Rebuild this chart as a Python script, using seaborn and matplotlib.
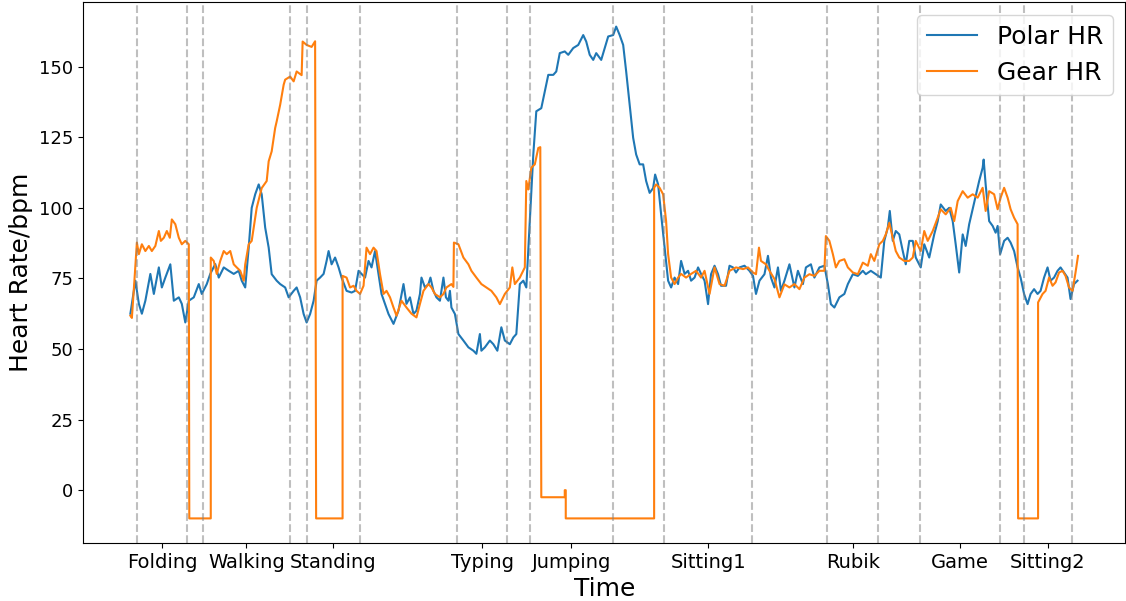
import pandas as pd
import matplotlib
matplotlib.use('Agg')
import matplotlib.pyplot as plt
import seaborn as sns

# activity names and their start/end times (s)
activities = ['Folding', 'Walking', 'Standing', 'Typing', 'Jumping',
              'Sitting1', 'Rubik', 'Game', 'Sitting2']
act_start = [14, 146, 353, 655, 800, 1069, 1396, 1581, 1789]
act_end = [113, 319, 459, 754, 967, 1246, 1498, 1742, 1885]

# Polar HR
polar_t = [0, 10, 17, 23, 30, 40, 47, 57, 63, 70, 80, 87, 97, 103, 110, 117, 127, 137, 143, 153,
           160, 170, 177, 187, 197, 207, 217, 223, 230, 237, 243, 250, 257, 263, 270, 277, 283, 293, 300, 310,
           317, 327, 333, 340, 347, 353, 360, 367, 373, 380, 387, 393, 397, 403, 410, 417, 423, 433, 443, 450,
           457, 463, 470, 477, 483, 490, 497, 503, 510, 517, 527, 537, 547, 553, 560, 567, 573, 580, 583, 590,
           597, 601, 607, 613, 620, 627, 632, 637, 640, 643, 650, 657, 667, 677, 687, 693, 700, 703, 710, 720,
           727, 735, 743, 750, 760, 767, 773, 780, 787, 793, 800, 807, 813, 823, 830, 837, 847, 853, 860, 870,
           877, 887, 897, 907, 913, 920, 927, 933, 943, 950, 957, 967, 973, 980, 987, 993, 1000, 1007, 1013, 1020,
           1027, 1033, 1040, 1047, 1051, 1057, 1063, 1070, 1077, 1083, 1090, 1097, 1103, 1110, 1117, 1123, 1130, 1137, 1143, 1150,
           1157, 1163, 1170, 1177, 1183, 1193, 1200, 1207, 1213, 1220, 1230, 1240, 1247, 1253, 1260, 1270, 1277, 1283, 1290, 1297,
           1303, 1310, 1320, 1330, 1337, 1347, 1353, 1363, 1370, 1380, 1390, 1397, 1403, 1410, 1420, 1430, 1437, 1447, 1457, 1467,
           1473, 1483, 1493, 1503, 1510, 1517, 1521, 1527, 1533, 1540, 1547, 1553, 1560, 1567, 1573, 1583, 1590, 1600, 1610, 1617,
           1623, 1633, 1640, 1647, 1653, 1660, 1667, 1673, 1680, 1687, 1693, 1700, 1707, 1709, 1713, 1720, 1727, 1733, 1737, 1742,
           1750, 1757, 1763, 1770, 1777, 1783, 1790, 1797, 1803, 1810, 1817, 1823, 1830, 1837, 1843, 1850, 1857, 1863, 1870, 1877,
           1883, 1890, 1897]
polar_hr = [62.5, 74.2, 66, 62.5, 67.1, 76.6, 69.5, 78.9, 71.8, 75.3, 80, 67.1, 68.3, 66, 59.4, 67.1, 68.3, 73, 69.5, 73,
            76.6, 80.1, 75.3, 78.9, 77.7, 76.6, 77.7, 74.2, 71.8, 85.9, 100, 104.8, 108.3, 104.8, 93, 85.9, 76.5, 74.2, 73, 71.8,
            68.3, 70.6, 71.8, 68.3, 62.4, 59.4, 62.4, 67.1, 74.2, 75.3, 76.6, 81.2, 84.7, 80, 82.4, 78.9, 75.3, 70.6, 70, 70.6,
            77.7, 76.6, 75.3, 81.2, 78.9, 84.7, 76.6, 69.5, 65.9, 62.4, 58.9, 63.6, 73, 66, 68.3, 62.4, 63.6, 69.5, 75.3, 71.8,
            73, 75.3, 70.6, 68.3, 67.1, 75.3, 68.3, 67.1, 70.6, 64.7, 62.4, 55.3, 53, 50.6, 49.4, 48.3, 55.3, 49.4, 50.6, 53,
            51.7, 49.4, 57.7, 53, 51.7, 54.1, 55.3, 73, 74.2, 71.8, 95.3, 118.9, 134.2, 135.3, 141.2, 147.1, 147.1, 148.3, 154.8, 155.4,
            154.2, 156.6, 157.7, 161.2, 158.9, 154.2, 152.4, 154.8, 152.4, 156.6, 160.7, 161.2, 164.2, 161.2, 157.7, 148.3, 136.5, 124.8, 118.9, 115.4,
            115.4, 109.5, 105.3, 107, 111.8, 108.3, 97.7, 85.9, 74.2, 71.8, 75.3, 73, 81.2, 76.6, 77.7, 74.2, 75.3, 78.9, 76.6, 74.2,
            65.9, 76.5, 79.5, 76.5, 72.4, 72.4, 79.5, 78.9, 77.1, 78.9, 79.5, 77.7, 75.9, 69.5, 74.2, 76.5, 83, 75.3, 71.8, 78.9,
            70.6, 74.2, 80, 71.8, 77.7, 73, 78.9, 80, 75.3, 78.9, 79.5, 73, 65.9, 64.7, 68.3, 69.5, 73, 76.5, 75.9, 77.7,
            76.5, 77.7, 76.5, 75.3, 88.3, 93, 98.9, 88.3, 91.8, 90.6, 84.7, 80, 88.3, 88.3, 82.4, 78.9, 87.1, 82.4, 90.6, 95.3,
            101.2, 98.9, 100, 95.3, 87.1, 77.1, 90.6, 86.5, 94.2, 99.5, 104.2, 109.5, 114.2, 117.1, 108.3, 95.3, 93.6, 91.2, 93.6, 83.6,
            88.3, 89.4, 87.7, 84.7, 78.9, 75.3, 69.5, 65.9, 69.5, 71.2, 69.5, 70.6, 75.3, 78.9, 74.2, 75.3, 77.7, 78.9, 77.1, 75.3,
            67.7, 73, 74.2]

# Gear HR (-10 = no reading)
gear_t = [0, 3, 8, 13, 17, 23, 30, 37, 43, 50, 57, 61, 67, 73, 79, 83, 90, 97, 103, 110,
          117, 118, 161, 161, 167, 173, 180, 187, 193, 200, 207, 213, 220, 227, 230, 237, 243, 247, 253, 263,
          273, 277, 283, 290, 293, 300, 307, 310, 320, 327, 333, 343, 345, 353, 363, 370, 372, 425, 425, 433,
          440, 447, 453, 460, 467, 473, 480, 487, 493, 500, 507, 513, 520, 527, 533, 543, 553, 563, 573, 580,
          587, 597, 603, 610, 620, 627, 633, 643, 647, 648, 657, 667, 677, 683, 693, 703, 713, 723, 733, 740,
          750, 760, 765, 770, 780, 790, 793, 797, 803, 810, 817, 821, 823, 870, 870, 872, 872, 1049, 1049, 1053,
          1060, 1067, 1073, 1077, 1083, 1090, 1097, 1103, 1113, 1123, 1133, 1143, 1150, 1160, 1170, 1180, 1190, 1200, 1213, 1227,
          1237, 1247, 1253, 1259, 1263, 1273, 1280, 1290, 1300, 1310, 1320, 1330, 1340, 1350, 1360, 1370, 1380, 1390, 1393, 1400,
          1407, 1413, 1420, 1430, 1437, 1447, 1457, 1467, 1477, 1483, 1490, 1500, 1507, 1513, 1520, 1527, 1533, 1540, 1550, 1560,
          1567, 1573, 1583, 1590, 1597, 1607, 1617, 1623, 1633, 1643, 1650, 1657, 1667, 1677, 1687, 1697, 1707, 1713, 1720, 1730,
          1737, 1743, 1750, 1757, 1763, 1770, 1777, 1778, 1818, 1818, 1827, 1833, 1840, 1847, 1853, 1860, 1867, 1873, 1880, 1887,
          1893, 1898]
gear_hr = [61.8, 61, 74, 87.7, 83.6, 87.1, 84.7, 86.5, 84.7, 86.5, 91.8, 88.3, 89.4, 91.8, 89.4, 95.9, 94.2, 89.4, 87.1, 88.3,
           87.1, -10, -10, 82.4, 81.2, 76.6, 81.2, 84.7, 83.6, 84.7, 80, 78.9, 77.7, 74.2, 80, 87.1, 88.3, 93, 100, 107,
           109.5, 116.5, 120, 128.3, 130.6, 136.5, 143.6, 145.4, 146.5, 144.8, 148.3, 147, 158.9, 157.7, 157, 159, -10, -10, 75.9, 75.3,
           71.8, 72.4, 70.6, 69.5, 72.4, 85.9, 83.6, 85.9, 84.7, 76.5, 69.5, 70.6, 68.3, 64.7, 61.8, 67.1, 64.7, 62.5, 61.2, 66,
           70.6, 73, 71.8, 69.5, 68.3, 69.5, 71.8, 73, 72, 87.7, 87.1, 82.4, 80, 77.7, 75.3, 73, 71.8, 70.6, 68.3, 65.9,
           69.5, 71.8, 78.9, 73, 75.3, 78.9, 109.5, 106.5, 114.2, 115.4, 121.2, 121.5, -2.5, -2.5, 0, 0, -10, -10, 107.1, 108.3,
           107.1, 104.8, 95.3, 83.6, 75.3, 73, 75.3, 76.6, 75.3, 76.6, 77.7, 75.3, 77.7, 69.5, 78.9, 73, 72.4, 77.7, 78.9, 78.3,
           78.9, 77.1, 76.5, 85.9, 81.2, 80, 77.7, 74.8, 68.3, 72.9, 71.8, 73, 71.2, 75.3, 76.5, 75.9, 77.7, 77.7, 90, 88.3,
           83.6, 78.9, 81.2, 81.8, 78.9, 77.1, 76.5, 80.6, 79.5, 83.6, 81.2, 87.1, 88.3, 90.6, 94.7, 89.4, 84.7, 82.4, 81.2, 81.2,
           82.4, 88.3, 84.7, 91.8, 88.3, 91.8, 96.5, 99.5, 97.7, 100, 95.3, 102.4, 105.9, 103.6, 104.8, 103.6, 107.1, 98.9, 105.9, 104.8,
           99.5, 103.6, 107.1, 103.6, 99.5, 96.5, 94.2, -10, -10, 66.5, 69.5, 70.6, 75.3, 72.4, 73.6, 77.1, 77.7, 75.9, 71.8, 70.6,
           77.1, 83]

df_polar = pd.DataFrame({'Time': polar_t, 'HR': polar_hr})
df_gear = pd.DataFrame({'Time': gear_t, 'HR': gear_hr})

fig = plt.figure(figsize=(11.26, 6.01), dpi=100)
ax = fig.add_axes([83 / 1126, 58 / 601, 1042.4 / 1126, 541 / 601])

sns.lineplot(x='Time', y='HR', data=df_polar, estimator=None, sort=False,
             color='#1f77b4', linewidth=1.5, label='Polar HR', ax=ax)
sns.lineplot(x='Time', y='HR', data=df_gear, estimator=None, sort=False,
             color='#ff7f0e', linewidth=1.5, label='Gear HR', ax=ax)

# activity boundaries
for s, e in zip(act_start, act_end):
    ax.axvline(s, color='grey', linestyle='--', alpha=0.5, linewidth=1.5)
    ax.axvline(e, color='grey', linestyle='--', alpha=0.5, linewidth=1.5)

mids = [(s + e) / 2 for s, e in zip(act_start, act_end)]
ax.set_xticks(mids)
ax.set_xticklabels(activities, fontsize=14)
ax.tick_params(axis='y', labelsize=13)
ax.set_xlabel('Time', fontsize=18)
ax.set_ylabel('Heart Rate/bpm', fontsize=18)
ax.legend(loc='upper right', fontsize=18)

fig.savefig('out.png', dpi=100)
